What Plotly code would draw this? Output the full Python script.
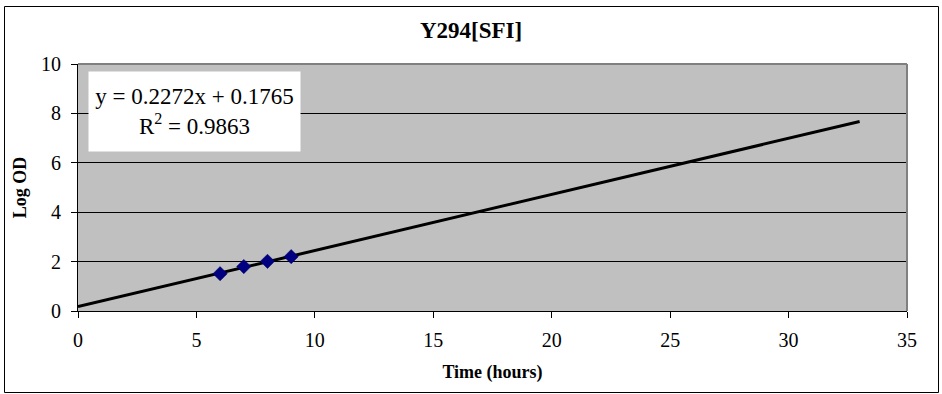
import plotly.graph_objects as go

# Measured growth: time (hours) vs log OD
time_hours = [6, 7, 8, 9]
log_od = [1.51, 1.80, 2.01, 2.20]

# Linear trendline (forecast forward to 33 h)
slope = 0.2272
intercept = 0.1765
r_squared = 0.9863
trend_x = [0, 33]
trend_y = [intercept + slope * x for x in trend_x]

x_ticks = [0, 5, 10, 15, 20, 25, 30, 35]
y_ticks = [0, 2, 4, 6, 8, 10]

serif = "Times New Roman"

fig = go.Figure()
fig.add_trace(go.Scatter(
    x=trend_x, y=trend_y, mode="lines",
    line=dict(color="black", width=3), showlegend=False, hoverinfo="skip"))
fig.add_trace(go.Scatter(
    x=time_hours, y=log_od, mode="markers",
    marker=dict(symbol="diamond", size=11, color="#000080",
                line=dict(color="#000060", width=0.5)),
    showlegend=False))

fig.update_layout(
    width=942, height=394,
    margin=dict(l=78, r=35, t=64, b=83),
    paper_bgcolor="white",
    plot_bgcolor="#C0C0C0",
    font=dict(family=serif, color="black", size=20),
    title=dict(text="<b>Y294[SFI]</b>", x=0.5, xanchor="center",
               y=1 - 30 / 394, yanchor="middle",
               font=dict(family=serif, size=23, color="black")),
    xaxis=dict(range=[0, 35], tickvals=x_ticks, showgrid=False, zeroline=False,
               showline=True, linecolor="black", linewidth=1,
               ticks="outside", ticklen=6, tickcolor="black",
               ticklabelstandoff=5,
               tickfont=dict(family=serif, size=20),
               title=dict(text="<b>Time (hours)</b>", standoff=15,
                          font=dict(family=serif, size=18))),
    yaxis=dict(range=[0, 10], tickvals=y_ticks, showgrid=True,
               gridcolor="black", gridwidth=1, zeroline=False,
               showline=True, linecolor="black", linewidth=1,
               ticks="outside", ticklen=6, tickcolor="black",
               ticklabelstandoff=6,
               tickfont=dict(family=serif, size=20),
               title=dict(text="<b>Log OD</b>", standoff=9,
                          font=dict(family=serif, size=18))),
)

# Plot-area frame (top and right edges in grey)
fig.add_shape(type="line", xref="paper", yref="paper", x0=0, x1=1, y0=1, y1=1,
              line=dict(color="#808080", width=2), layer="above")
fig.add_shape(type="line", xref="paper", yref="paper", x0=1, x1=1, y0=0, y1=1,
              line=dict(color="#808080", width=2), layer="above")

# Outer chart border
pw = 942 - 78 - 35
ph = 394 - 64 - 83
fig.add_shape(type="rect", xref="paper", yref="paper",
              x0=(4.5 - 78) / pw, x1=(938.5 - 78) / pw,
              y0=(311 - 392.5) / ph, y1=(311 - 6.5) / ph,
              line=dict(color="black", width=1), fillcolor="rgba(0,0,0,0)",
              layer="below")

# Trendline equation box
eq_text = (f"y = {slope:.4f}x + {intercept:.4f}<br>"
           f"R<sup>2</sup> = {r_squared:.4f}")
fig.add_annotation(
    xref="paper", yref="paper",
    x=(88 - 78) / pw, y=(311 - 71) / ph, xanchor="left", yanchor="top",
    text=eq_text, showarrow=False, align="center",
    font=dict(family=serif, size=23, color="black"),
    bgcolor="white", borderpad=4, width=203, height=71)

fig.write_html("out.html")
